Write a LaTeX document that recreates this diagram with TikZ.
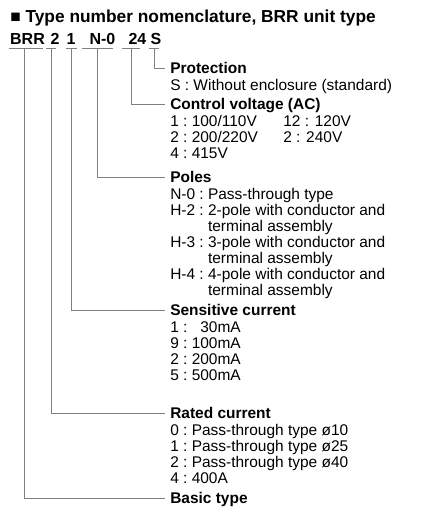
\documentclass[tikz,border=0pt]{standalone}
\usepackage{fontspec}
\setmainfont{Liberation Sans}
\usetikzlibrary{positioning}

\begin{document}
\begin{tikzpicture}[
    x=0.75pt, y=-0.75pt,
    title/.style={anchor=base west, inner sep=0pt, font=\fontsize{13}{15}\selectfont\bfseries},
    code/.style={anchor=base, inner sep=0pt, font=\fontsize{12}{14}\selectfont\bfseries},
    uline/.style={draw=gray, line width=0.75pt},
    leader/.style={draw=gray, line width=0.75pt},
    head/.style={anchor=west, inner xsep=3.75pt, inner ysep=0pt, text height=8.2pt,
                 text depth=0pt, font=\fontsize{11.6}{12}\selectfont\bfseries},
    body/.style={inner sep=0pt, font=\fontsize{11.6}{12}\selectfont},
]
\useasboundingbox (0,0) rectangle (429,525);

% Title and type code
\node[title] (ttl) at (10,22) {■ Type number nomenclature, BRR unit type};
\node[code] (brr) at (27.5,44) {BRR};
\node[code] (rated) at (55,44) {2};
\node[code] (sens) at (71,44) {1};
\node[code] (poles) at (102.5,44) {N-0};
\node[code] (volt) at (137.5,44) {24};
\node[code] (prot) at (156,44) {S};

% Underlines below each part of the code
\draw[uline] (9,48.5) -- (43,48.5);
\draw[uline] (46,48.5) -- (56,48.5);
\draw[uline] (66,48.5) -- (77,48.5);
\draw[uline] (82,48.5) -- (113,48.5);
\draw[uline] (122,48.5) -- (140,48.5);
\draw[uline] (149,48.5) -- (159,48.5);

\coordinate (brr-t) at (24,48.5);
\coordinate (rated-t) at (51,48.5);
\coordinate (sens-t) at (71,48.5);
\coordinate (poles-t) at (97,48.5);
\coordinate (volt-t) at (131,48.5);
\coordinate (prot-t) at (154,48.5);

% Headings
\node[head] (prot-h) at (165,68) {Protection};
\node[head] (volt-h) at (165,104) {Control voltage (AC)};
\node[head] (poles-h) at (165,177) {Poles};
\node[head] (sens-h) at (165,310) {Sensitive current};
\node[head] (rated-h) at (165,413) {Rated current};
\node[head] (brr-h) at (165,498) {Basic type};

% Descriptions
\node[body, below right=12.4pt and 3.75pt of prot-h.base west, anchor=base west] (prot-b)
    {S : Without enclosure (standard)};
\node[body, below right=12.4pt and 3.75pt of volt-h.base west, anchor=base west] (volt-b)
    {\begin{tabular}[t]{@{}l@{\ }l@{\hspace{19pt}}l@{}}
     1 : & 100/110V & 12 : 120V\\
     2 : & 200/220V & 2 : 240V\\
     4 : & 415V & \\
     \end{tabular}};
\node[body, below right=12.4pt and 3.75pt of poles-h.base west, anchor=base west] (poles-b)
    {\begin{tabular}[t]{@{}l@{\ }l@{}}
     N-0 : & Pass-through type\\
     H-2 : & 2-pole with conductor and\\
           & terminal assembly\\
     H-3 : & 3-pole with conductor and\\
           & terminal assembly\\
     H-4 : & 4-pole with conductor and\\
           & terminal assembly\\
     \end{tabular}};
\node[body, below right=12.4pt and 3.75pt of sens-h.base west, anchor=base west] (sens-b)
    {\begin{tabular}[t]{@{}l@{\ }r@{}}
     1 : & 30mA\\
     9 : & 100mA\\
     2 : & 200mA\\
     5 : & 500mA\\
     \end{tabular}};
\node[body, below right=12.4pt and 3.75pt of rated-h.base west, anchor=base west] (rated-b)
    {\begin{tabular}[t]{@{}l@{\ }l@{}}
     0 : & Pass-through type ø10\\
     1 : & Pass-through type ø25\\
     2 : & Pass-through type ø40\\
     4 : & 400A\\
     \end{tabular}};

% Leaders from code to headings
\draw[leader] (prot-t) |- (prot-h);
\draw[leader] (volt-t) |- (volt-h);
\draw[leader] (poles-t) |- (poles-h);
\draw[leader] (sens-t) |- (sens-h);
\draw[leader] (rated-t) |- (rated-h);
\draw[leader] (brr-t) |- (brr-h);

\end{tikzpicture}
\end{document}
